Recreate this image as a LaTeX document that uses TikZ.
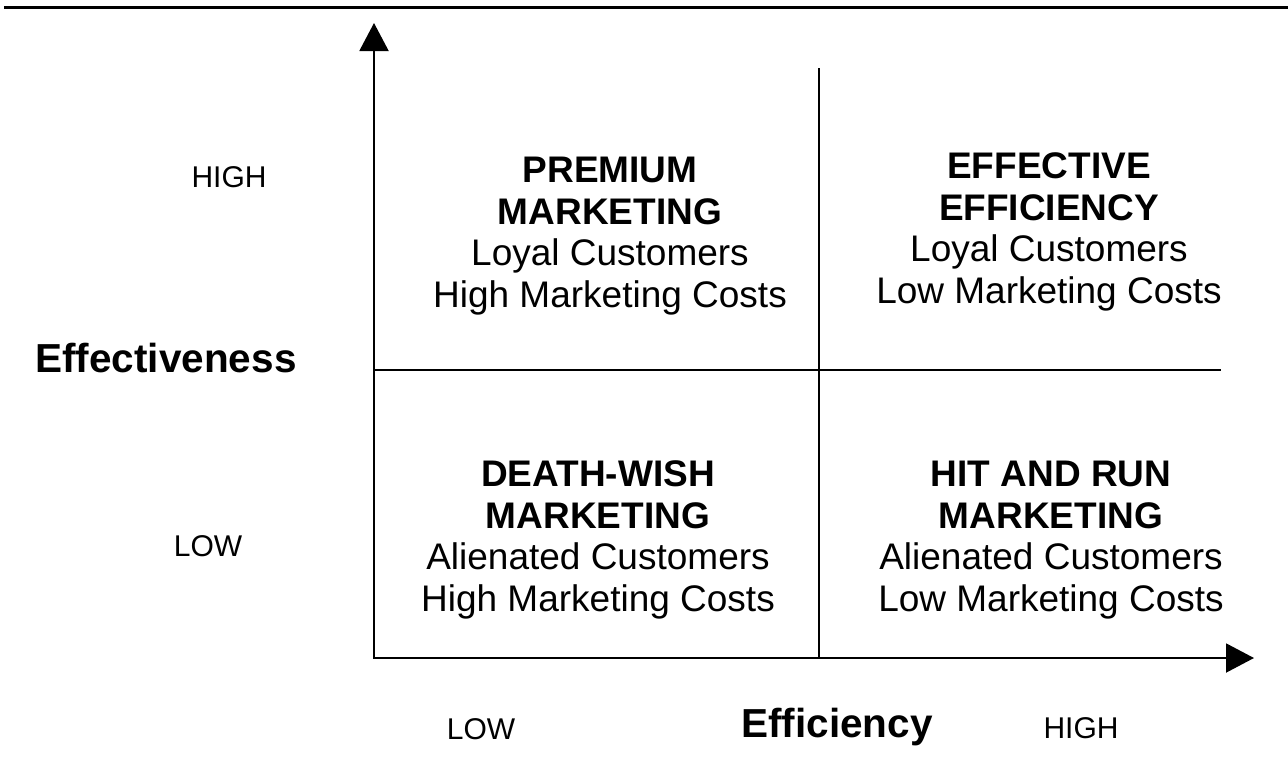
\documentclass[tikz,border=0pt]{standalone}
\usepackage{fontspec}
\setmainfont{Liberation Sans}
\usetikzlibrary{arrows.meta}
\tikzset{bigtip/.tip={Triangle[length=28pt,width=29pt]}}
\begin{document}
\begin{tikzpicture}[x=1pt,y=-1pt,
  axisline/.style={line width=2pt,black},
  divline/.style={line width=1.8pt,black},
  quad/.style={align=center,inner sep=0pt,font=\fontsize{37}{41.5}\selectfont},
  ticklab/.style={anchor=base,inner sep=0pt,font=\fontsize{30}{34}\selectfont},
  axislab/.style={anchor=base,inner sep=0pt,font=\fontsize{40.5}{45}\selectfont\bfseries}]
\useasboundingbox (0,0) rectangle (1288,769);
% top rule
\coordinate (ruleL) at (4,7.5);
\coordinate (ruleR) at (1288,7.5);
\draw[line width=3pt] (ruleL) -- (ruleR);
% axes
\coordinate (ytip) at (374,23);
\coordinate (origin) at (374,658);
\coordinate (xtip) at (1254,658);
\draw[axisline,bigtip-bigtip] (ytip) -- (origin) -- (xtip);
% dividers
\coordinate (vtop) at (819,68);
\coordinate (vbot) at (819,658);
\coordinate (hl) at (374,370);
\coordinate (hr) at (1221,370);
\draw[divline] (vtop) -- (vbot);
\draw[divline] (hl) -- (hr);
% quadrant texts
\node[quad] (q1) at (610,236) {\textbf{PREMIUM}\\\textbf{MARKETING}\\Loyal Customers\\High Marketing Costs};
\node[quad] (q2) at (1049,232) {\textbf{EFFECTIVE}\\\textbf{EFFICIENCY}\\Loyal Customers\\Low Marketing Costs};
\node[quad] (q3) at (598,540) {\textbf{DEATH-WISH}\\\textbf{MARKETING}\\Alienated Customers\\High Marketing Costs};
\node[quad] (q4) at (1051,540) {\textbf{HIT AND RUN}\\\textbf{MARKETING}\\Alienated Customers\\Low Marketing Costs};
% axis labels
\node[ticklab] (yhigh) at (229,187) {HIGH};
\node[ticklab] (ylow) at (208,556) {LOW};
\node[axislab] (ylab) at (166,372) {Effectiveness};
\node[ticklab] (xlow) at (481,739) {LOW};
\node[axislab] (xlab) at (837,737) {Efficiency};
\node[ticklab] (xhigh) at (1081,738) {HIGH};
\end{tikzpicture}
\end{document}
